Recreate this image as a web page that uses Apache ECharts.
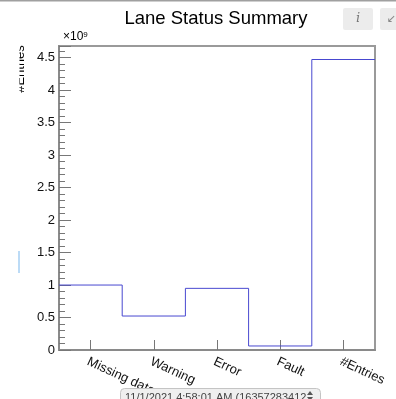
<!DOCTYPE html>
<html><head><meta charset="utf-8">
<script src="https://cdn.jsdelivr.net/npm/echarts@6/dist/echarts.min.js"></script>
<style>html,body{margin:0;padding:0;background:#fff;overflow:hidden}#c{width:396px;height:399px}</style>
</head><body><div id="c"></div>
<script>
// ---- data ----
const categories = ['Missing data', 'Warning', 'Error', 'Fault', '#Entries'];
const entries = [1.0e9, 0.523e9, 0.949e9, 0.062e9, 4.472e9];
const yTickLabels = ['0', '0.5', '1', '1.5', '2', '2.5', '3', '3.5', '4', '4.5'];
const yMax = 4.68e9;
const yMajorStep = 0.5e9;
const yMinorStep = 0.1e9;
const titleText = 'Lane Status Summary';
const yAxisName = '#Entries';
const exponentBase = '×10';
const exponentPower = '9';
const footerText = '11/1/2021 4:58:01 AM (16357283412';

// histogram outline points (bin edges) built from the values
const stepPoints = entries.map((v, i) => [i, v]);
stepPoints.push([entries.length, entries[entries.length - 1]]);

const FONT = '"Liberation Sans", Arial, Helvetica, sans-serif';
const chart = echarts.init(document.getElementById('c'), null, { renderer: 'canvas' });

chart.setOption({
  animation: false,
  backgroundColor: '#ffffff',
  grid: { left: 59, right: 21, top: 46, bottom: 49, show: true, borderColor: '#9a9a9a', borderWidth: 2, backgroundColor: 'transparent' },
  xAxis: [
    { type: 'value', min: 0, max: categories.length, show: false },
    {
      type: 'category', data: categories, position: 'bottom', boundaryGap: true,
      axisLine: { show: true, lineStyle: { color: '#8a8a8a', width: 2 } },
      axisTick: { show: true, inside: true, alignWithLabel: true, length: 10, lineStyle: { color: '#777', width: 1 } },
      axisLabel: { rotate: -25, margin: 5, verticalAlign: 'top', fontSize: 13, fontFamily: FONT, color: '#111', interval: 0 },
      splitLine: { show: false }
    }
  ],
  yAxis: [
    {
      type: 'value', min: 0, max: yMax, interval: yMajorStep, position: 'left',
      axisLine: { show: true, lineStyle: { color: '#8a8a8a', width: 2 } },
      axisTick: { show: true, inside: true, length: 12, lineStyle: { color: '#777', width: 1 } },
      axisLabel: {
        margin: 4, fontSize: 13, fontFamily: FONT, color: '#111',
        formatter: function (v) {
          const i = Math.round(v / yMajorStep);
          if (Math.abs(v - i * yMajorStep) > 1) return '';
          return yTickLabels[i] || '';
        }
      },
      splitLine: { show: false }
    },
    {
      type: 'value', min: 0, max: yMax, interval: yMinorStep, position: 'left',
      axisLine: { show: false },
      axisTick: { show: true, inside: true, length: 6, lineStyle: { color: '#777', width: 1 } },
      axisLabel: { show: false },
      splitLine: { show: false }
    }
  ],
  series: [
    {
      type: 'line', xAxisIndex: 0, yAxisIndex: 0, data: stepPoints, step: 'end',
      symbol: 'none', lineStyle: { color: '#4848d0', width: 1 }, clip: true
    }
  ],
  graphic: [
    { type: 'rect', z: 100, shape: { x: 0, y: 0, width: 396, height: 1.5 }, style: { fill: '#a0a0a0' } },
    { type: 'text', z: 100, x: 216, y: 9.5, style: { text: titleText, font: '18.5px ' + FONT, fill: '#000', textAlign: 'center', textVerticalAlign: 'top' } },
    { type: 'text', z: 100, x: 63, y: 31, style: {
        text: '{a|' + exponentBase + '}{b|' + exponentPower + '}',
        rich: { a: { fontSize: 12, fontFamily: FONT, fill: '#000', color: '#000' }, b: { fontSize: 8, fontFamily: FONT, color: '#000', fill: '#000', verticalAlign: 'top', padding: [0, 0, 4, 0] } },
        textVerticalAlign: 'top' } },
    // toolbar buttons
    { type: 'rect', z: 100, shape: { x: 343, y: 8, width: 30, height: 22, r: 2 }, style: { fill: '#ececec' } },
    { type: 'text', z: 101, x: 358, y: 19, style: { text: 'i', font: 'italic 13px "DejaVu Serif", serif', fill: '#777', textAlign: 'center', textVerticalAlign: 'middle' } },
    { type: 'rect', z: 100, shape: { x: 380, y: 8, width: 30, height: 22, r: 2 }, style: { fill: '#ececec' } },
    { type: 'text', z: 101, x: 391, y: 19, style: { text: '↙', font: '11px "DejaVu Sans", sans-serif', fill: '#888', textAlign: 'center', textVerticalAlign: 'middle' } },
    // y axis title (clipped on the left)
    { type: 'text', z: 100, x: 27, y: 69, rotation: Math.PI / 2, style: { text: yAxisName, font: '13px ' + FONT, fill: '#000', textAlign: 'center', textVerticalAlign: 'bottom' } },
    { type: 'rect', z: 102, shape: { x: 0, y: 2, width: 19.5, height: 397 }, style: { fill: '#ffffff' } },
    { type: 'rect', z: 103, shape: { x: 18.5, y: 251, width: 1, height: 22 }, style: { fill: '#7ab8ee' } },
    // footer date selector
    { type: 'rect', z: 110, shape: { x: 120.5, y: 388.5, width: 200, height: 16, r: 4 }, style: { fill: '#efefef', stroke: '#c4c4c4', lineWidth: 1 } },
    { type: 'text', z: 111, x: 125, y: 392.5, style: { text: footerText, font: '11px ' + FONT, fill: '#444', textVerticalAlign: 'top' } },
    { type: 'polygon', z: 111, shape: { points: [[307, 395], [313, 395], [310, 391]] }, style: { fill: '#555' } },
    { type: 'polygon', z: 111, shape: { points: [[307, 397], [313, 397], [310, 401]] }, style: { fill: '#555' } }
  ]
});
</script></body></html>
